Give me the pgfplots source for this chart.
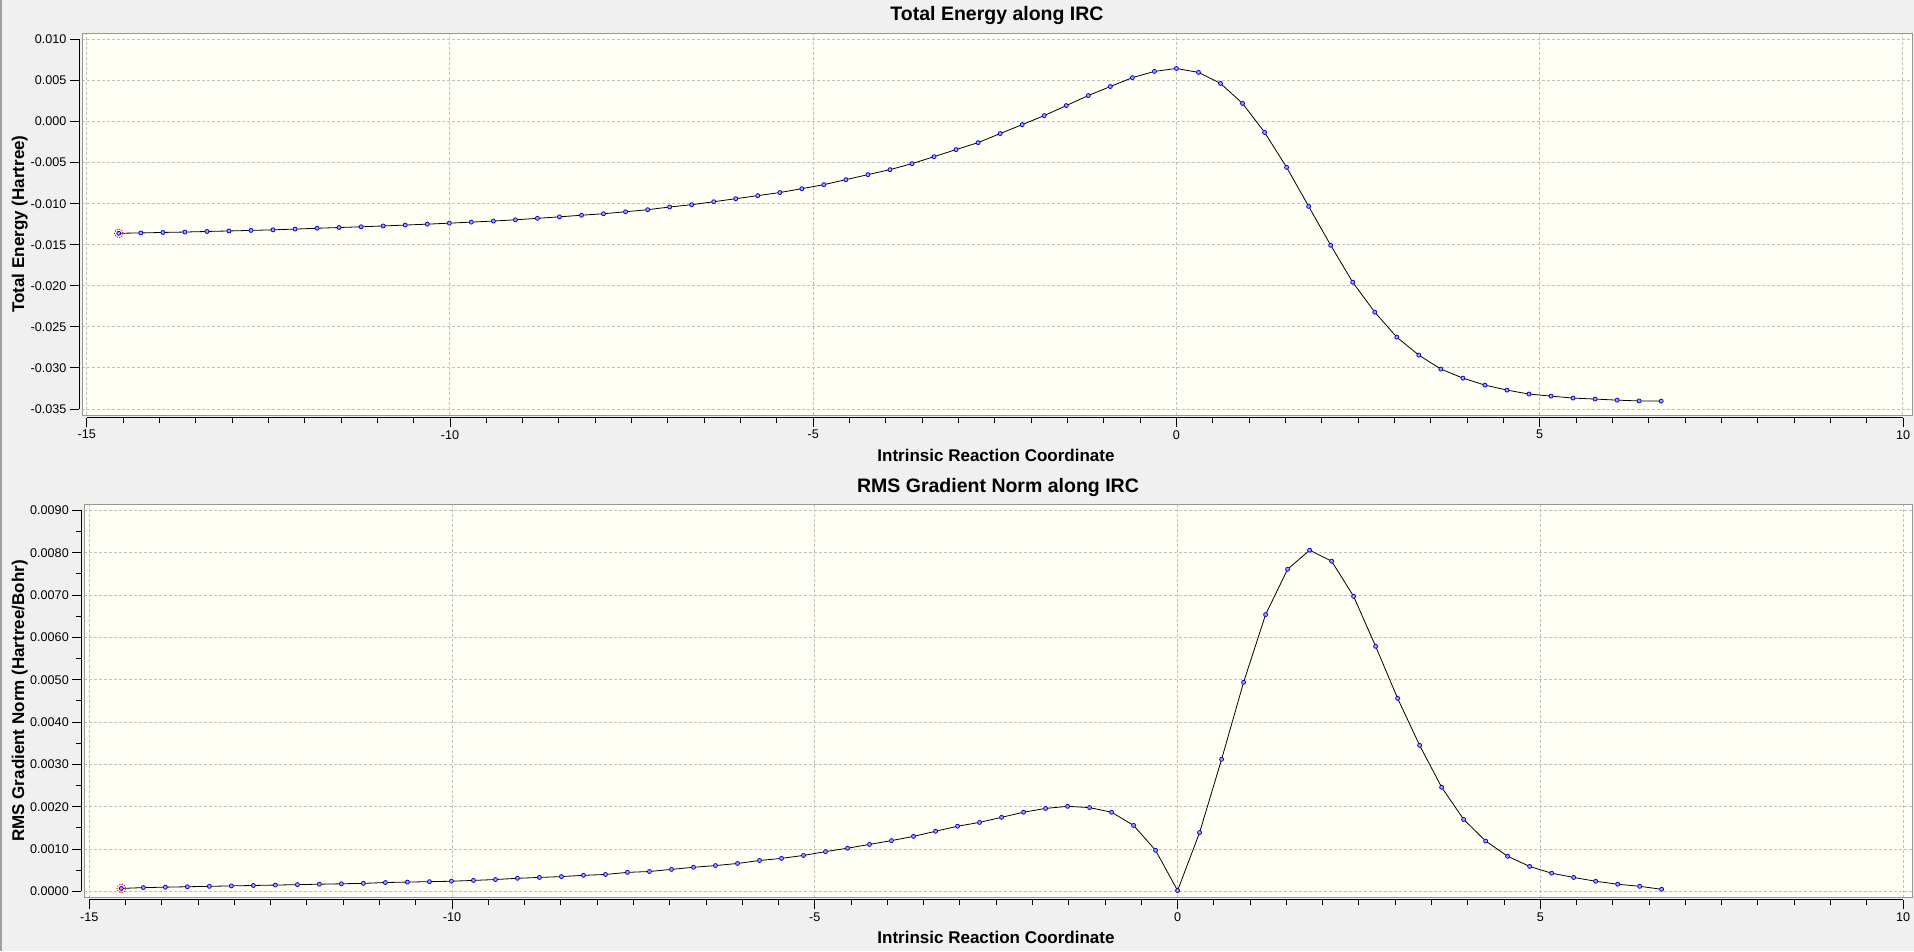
\documentclass[border=0pt]{standalone}
\usepackage{pgfplots}
\pgfplotsset{compat=1.18}
\usepackage{pgfplotstable}
\usepackage{fontspec}
\setmainfont{Liberation Sans}

\definecolor{bgc}{RGB}{240,240,240}
\definecolor{plotbg}{RGB}{255,255,246}
\definecolor{gridc}{RGB}{192,192,192}
\definecolor{framec}{RGB}{150,150,150}
\definecolor{mkfill}{RGB}{172,176,204}
\definecolor{strip}{RGB}{160,160,164}

\pgfplotstableread{
x y
-14.5584 -0.01360
-14.2551 -0.01356
-13.9518 -0.01350
-13.6485 -0.01345
-13.3452 -0.01338
-13.0419 -0.01332
-12.7386 -0.01325
-12.4353 -0.01318
-12.1320 -0.01309
-11.8287 -0.01299
-11.5254 -0.01290
-11.2221 -0.01281
-10.9188 -0.01271
-10.6155 -0.01260
-10.3122 -0.01249
-10.0089 -0.01237
-9.7056 -0.01224
-9.4023 -0.01211
-9.0990 -0.01196
-8.7957 -0.01178
-8.4924 -0.01160
-8.1891 -0.01140
-7.8858 -0.01122
-7.5825 -0.01098
-7.2792 -0.01073
-6.9759 -0.01040
-6.6726 -0.01012
-6.3693 -0.00976
-6.0660 -0.00939
-5.7627 -0.00902
-5.4594 -0.00864
-5.1561 -0.00817
-4.8528 -0.00768
-4.5495 -0.00707
-4.2462 -0.00646
-3.9429 -0.00585
-3.6396 -0.00512
-3.3363 -0.00427
-3.0330 -0.00341
-2.7297 -0.00256
-2.4264 -0.00146
-2.1231 -0.00037
-1.8198 0.00073
-1.5165 0.00195
-1.2132 0.00317
-0.9099 0.00427
-0.6066 0.00535
-0.3033 0.00611
0.0000 0.00647
0.3033 0.00599
0.6066 0.00465
0.9099 0.00221
1.2132 -0.00131
1.5165 -0.00557
1.8198 -0.01032
2.1231 -0.01506
2.4264 -0.01956
2.7297 -0.02321
3.0330 -0.02625
3.3363 -0.02844
3.6396 -0.03014
3.9429 -0.03124
4.2462 -0.03209
4.5495 -0.03270
4.8528 -0.03318
5.1561 -0.03343
5.4594 -0.03367
5.7627 -0.03379
6.0660 -0.03392
6.3693 -0.03402
6.6726 -0.03404
}\energy

\pgfplotstableread{
x y
-14.5584 0.00007
-14.2551 0.00009
-13.9518 0.00010
-13.6485 0.00011
-13.3452 0.00012
-13.0419 0.00013
-12.7386 0.00014
-12.4353 0.00015
-12.1320 0.00016
-11.8287 0.00017
-11.5254 0.00018
-11.2221 0.00019
-10.9188 0.00021
-10.6155 0.00022
-10.3122 0.00023
-10.0089 0.00024
-9.7056 0.00026
-9.4023 0.00028
-9.0990 0.00031
-8.7957 0.00033
-8.4924 0.00035
-8.1891 0.00038
-7.8858 0.00040
-7.5825 0.00045
-7.2792 0.00047
-6.9759 0.00052
-6.6726 0.00057
-6.3693 0.00061
-6.0660 0.00066
-5.7627 0.00073
-5.4594 0.00078
-5.1561 0.00085
-4.8528 0.00094
-4.5495 0.00102
-4.2462 0.00111
-3.9429 0.00120
-3.6396 0.00130
-3.3363 0.00142
-3.0330 0.00154
-2.7297 0.00163
-2.4264 0.00175
-2.1231 0.00187
-1.8198 0.00196
-1.5165 0.00201
-1.2132 0.00198
-0.9099 0.00187
-0.6066 0.00156
-0.3033 0.00097
0.0000 0.00002
0.3033 0.00139
0.6066 0.00312
0.9099 0.00494
1.2132 0.00654
1.5165 0.00761
1.8198 0.00806
2.1231 0.00780
2.4264 0.00697
2.7297 0.00579
3.0330 0.00456
3.3363 0.00345
3.6396 0.00246
3.9429 0.00170
4.2462 0.00119
4.5495 0.00083
4.8528 0.00059
5.1561 0.00043
5.4594 0.00033
5.7627 0.00024
6.0660 0.00017
6.3693 0.00012
6.6726 0.00005
}\gradnorm

\pgfplotsset{
  framestyle/.style={
    scale only axis, anchor=south west,
    axis background/.style={fill=plotbg},
    axis line style={draw=framec, line width=0.9pt},
    major tick length=0pt, minor tick length=0pt,
    xticklabel=\empty, yticklabel=\empty,
    xmajorgrids, ymajorgrids,
    major grid style={draw=gridc, line width=0.9pt, dash pattern=on 3pt off 2pt},
    xtick={-15,-10,-5,0,5,10},
    scaled ticks=false,
  },
  axstyle/.style={
    scale only axis, anchor=south west,
    axis x line=bottom, axis y line=left,
    axis line style={black, line width=0.9pt, -},
    tick style={black, line width=0.9pt},
    tick align=outside,
    major tick length=9pt, minor tick length=5.5pt,
    xtick={-15,-10,-5,0,5,10}, minor x tick num=9,
    scaled ticks=false,
    tick label style={font=\fontsize{12.6}{14}\selectfont},
    /pgf/number format/assume math mode=true,
    xmin=-15, xmax=10,
  },
  dataline/.style={black, line width=0.8pt, mark=*, mark size=2pt,
    mark options={draw=blue, fill=mkfill, line width=0.8pt, solid}},
  startmark/.style={only marks, mark=o, mark size=4.3pt,
    mark options={draw=red, line width=0.8pt, dash pattern=on 1.4pt off 1.1pt}},
}

\begin{document}
\begin{tikzpicture}
\fill[bgc] (0pt,0pt) rectangle (1914pt,951pt);
\useasboundingbox (0pt,0pt) rectangle (1914pt,951pt);
\fill[strip] (0pt,0pt) rectangle (2pt,951pt);

% ---------- top panel ----------
\begin{axis}[framestyle, at={(82pt,536pt)}, width=1830pt, height=382pt,
  xmin=-15.0647, xmax=10.125, ymin=-0.03573, ymax=0.01079,
  ytick={-0.035,-0.03,-0.025,-0.02,-0.015,-0.01,-0.005,0,0.005,0.01}]
\addplot[startmark] coordinates {(-14.5584,-0.01360)};
\addplot[dataline] table[x=x,y=y] {\energy};
\end{axis}
\begin{axis}[axstyle, at={(86.7pt,542pt)}, width=1816.3pt, height=369.5pt,
  ymin=-0.035, ymax=0.010,
  axis x line shift=8.7pt, axis y line shift=7.7pt,
  ytick={-0.035,-0.03,-0.025,-0.02,-0.015,-0.01,-0.005,0,0.005,0.01},
  y tick label style={/pgf/number format/.cd, fixed, fixed zerofill, precision=3, /tikz/.cd}]
\end{axis}

% ---------- bottom panel ----------
\begin{axis}[framestyle, at={(84.3pt,53.5pt)}, width=1827.7pt, height=392.8pt,
  xmin=-15.069, xmax=10.123, ymin=-0.000144, ymax=0.009135,
  ytick={0,0.001,0.002,0.003,0.004,0.005,0.006,0.007,0.008,0.009}]
\addplot[startmark] coordinates {(-14.5584,0.00007)};
\addplot[dataline] table[x=x,y=y] {\gradnorm};
\end{axis}
\begin{axis}[axstyle, at={(89.3pt,59.6pt)}, width=1813.7pt, height=381pt,
  ymin=0, ymax=0.009,
  axis x line shift=8.5pt, axis y line shift=8pt,
  ytick={0,0.001,0.002,0.003,0.004,0.005,0.006,0.007,0.008,0.009},
  minor y tick num=1,
  y tick label style={/pgf/number format/.cd, fixed, fixed zerofill, precision=4, /tikz/.cd}]
\end{axis}

% ---------- titles and labels ----------
\node[font=\bfseries\fontsize{19.5}{22}\selectfont, anchor=base] at (997pt,930.3pt) {Total Energy along IRC};
\node[font=\bfseries\fontsize{17}{20}\selectfont, anchor=base] at (996pt,489.3pt) {Intrinsic Reaction Coordinate};
\node[font=\bfseries\fontsize{17}{20}\selectfont, anchor=base, rotate=90] at (24pt,727pt) {Total Energy (Hartree)};
\node[font=\bfseries\fontsize{19.5}{22}\selectfont, anchor=base] at (998pt,458.3pt) {RMS Gradient Norm along IRC};
\node[font=\bfseries\fontsize{17}{20}\selectfont, anchor=base] at (996pt,7.1pt) {Intrinsic Reaction Coordinate};
\node[font=\bfseries\fontsize{17}{20}\selectfont, anchor=base, rotate=90] at (24pt,250pt) {RMS Gradient Norm (Hartree/Bohr)};
\end{tikzpicture}
\end{document}
